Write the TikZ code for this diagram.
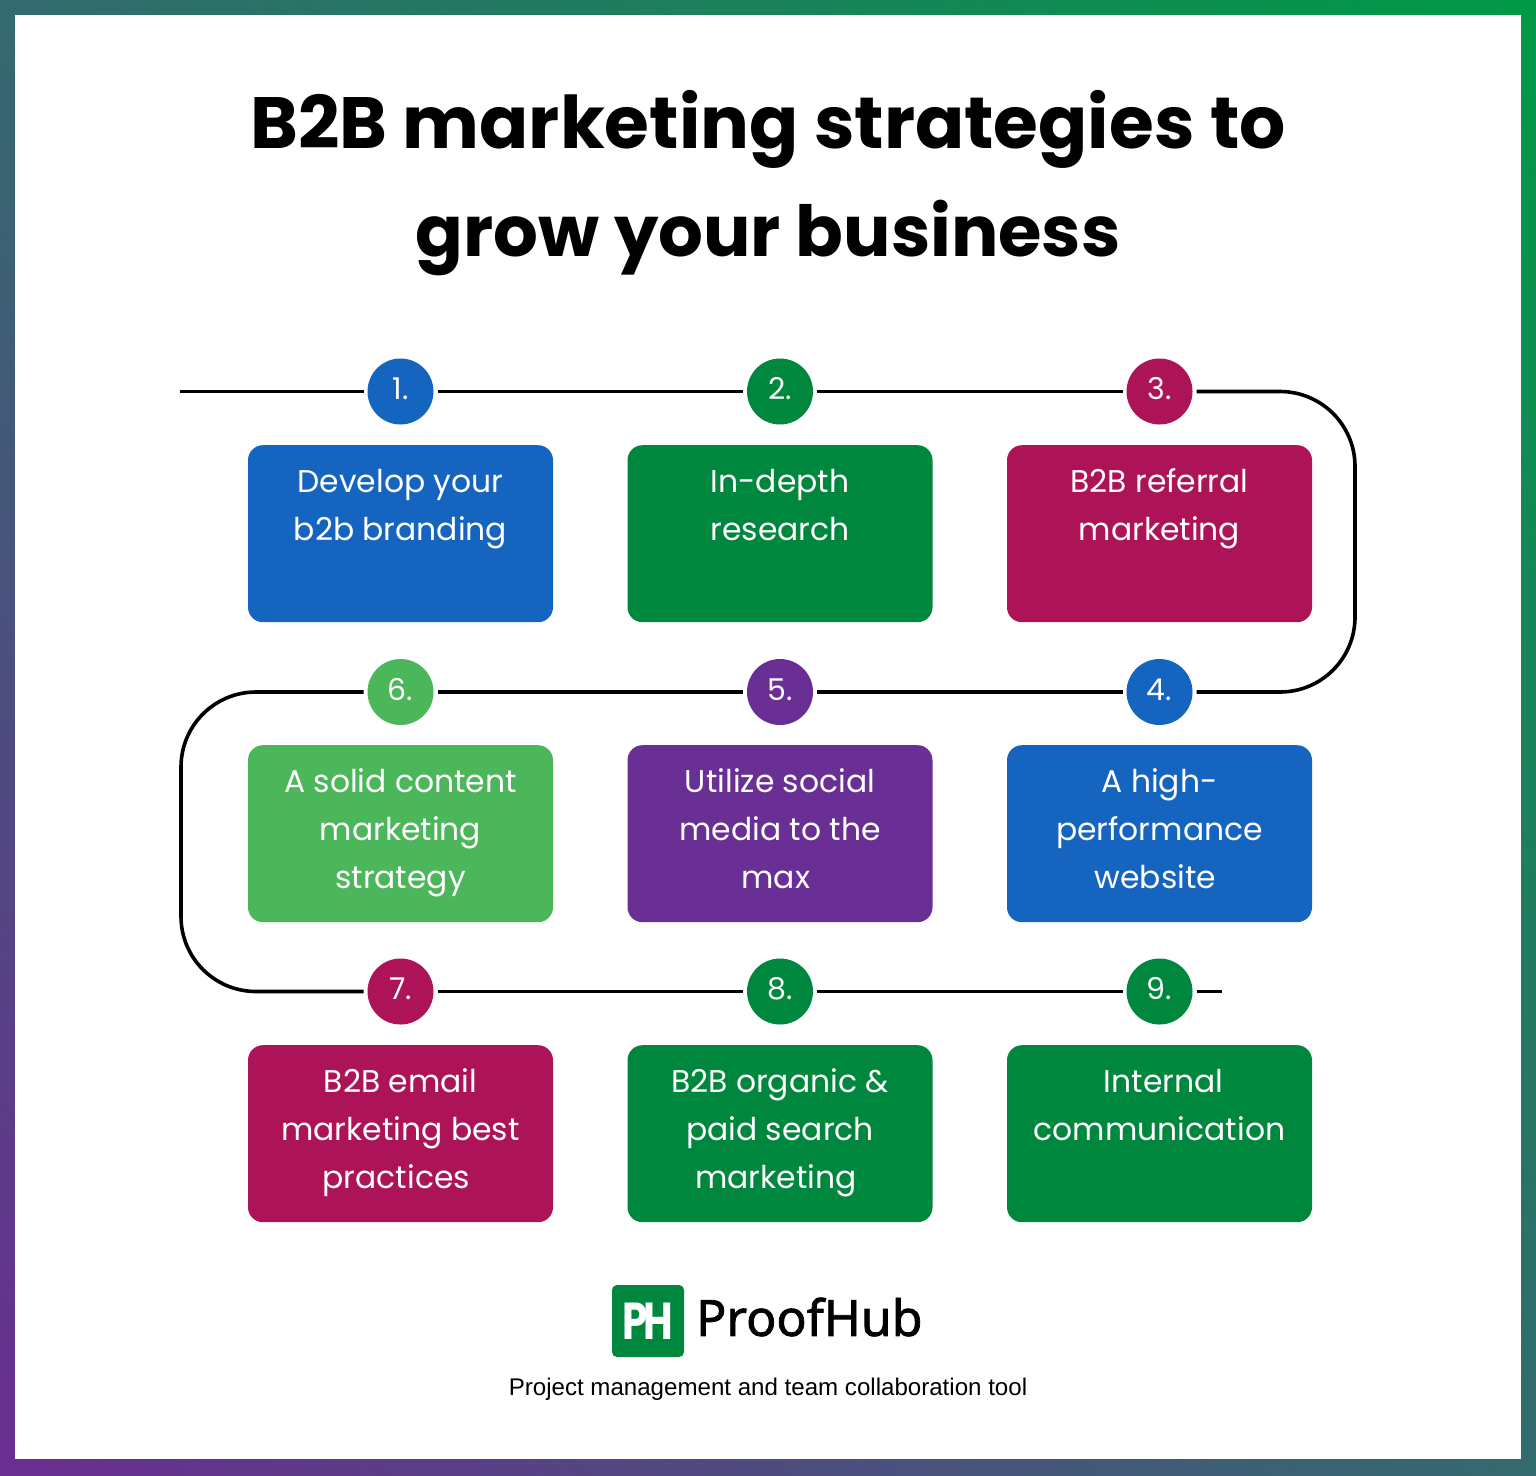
\documentclass[tikz,border=0pt]{standalone}
\usepackage{graphicx}
\usepackage{fontspec}
\setmainfont{Poppins}
\newfontfamily\footfont{Liberation Sans}
\newfontfamily\hubfont{Noto Sans}[FakeBold=1.5]
\usetikzlibrary{positioning, shadings}
\definecolor{pblue}{HTML}{1565C0}
\definecolor{pgreen}{HTML}{00873E}
\definecolor{pred}{HTML}{AD1457}
\definecolor{plime}{HTML}{4CB65A}
\definecolor{ppurple}{HTML}{692F94}
\definecolor{bgreen}{HTML}{009A47}
\definecolor{bteal}{HTML}{336A6E}
\definecolor{bviolet}{HTML}{6A2D91}
\newcommand{\cardend}{\rule[-20.4pt]{0pt}{10pt}}
\begin{document}
\begin{tikzpicture}[x=1pt, y=-1pt,
      dot/.style={circle, fill=#1, text=white, minimum size=66pt, inner sep=0pt, outer sep=4pt,
        text height=21pt, text depth=5pt, font=\fontsize{30}{30}\selectfont},
      card/.style={rectangle, rounded corners=15pt, fill=#1, text=white, minimum width=305pt,
        minimum height=177pt, inner sep=0pt, anchor=north,
        font=\fontsize{31.4}{48}\selectfont, align=center},
      wire/.style={line width=3.6pt, black}]
      \useasboundingbox (0,0) rectangle (1536,1475);
      % frame
      \shade[upper left=bteal, upper right=bgreen, lower left=bviolet, lower right=bteal]
        (0,0) rectangle (1536,1475);
      \fill[white] (15,15) rectangle (1521,1459);
      % title
      \node[font=\fontsize{72.6}{108}\selectfont\bfseries, align=center] (title) at (768,183)
        {B2B marketing strategies to\\\fontsize{70.4}{108}\selectfont grow your business};
      % row 1
      \node[dot=pblue] (n_1) at (400.5,391.5) {1.};
      \node[dot=pgreen] (n_2) at (780,391.5) {2.};
      \node[dot=pred] (n_3) at (1159.5,391.5) {3.};
      \node[card=pblue] (c_1) at (400.5,445) {\strut Develop your\\b2b branding~\\\cardend};
      \node[card=pgreen] (c_2) at (780,445) {\strut In-depth\\research~\\\cardend};
      \node[card=pred] (c_3) at (1159.5,445) {\strut B2B referral\\marketing~\\\cardend};
      % row 2
      \node[dot=plime] (n_6) at (400.5,692) {6.};
      \node[dot=ppurple] (n_5) at (780,692) {5.};
      \node[dot=pblue] (n_4) at (1159.5,692) {4.};
      \node[card=plime] (c_6) at (400.5,745) {\strut A solid content\\marketing\\strategy\cardend};
      \node[card=ppurple] (c_5) at (780,745) {\strut Utilize social\\media to the\\max~\cardend};
      \node[card=pblue] (c_4) at (1159.5,745) {\strut A high-\\performance\\website~\cardend};
      % row 3
      \node[dot=pred] (n_7) at (400.5,991.5) {7.};
      \node[dot=pgreen] (n_8) at (780,991.5) {8.};
      \node[dot=pgreen] (n_9) at (1159.5,991.5) {9.};
      \node[card=pred] (c_7) at (400.5,1045) {\strut B2B email\\marketing best\\practices~\cardend};
      \node[card=pgreen] (c_8) at (780,1045) {\strut B2B organic \&\\paid search\\marketing~\cardend};
      \node[card=pgreen] (c_9) at (1159.5,1045) {\strut~Internal\\communication\\\cardend};
      % wire
      \coordinate (w_start) at (180,391.5);
      \coordinate (w_end) at (1222,991.5);
      \coordinate (turn_a) at (1355,391.5);
      \coordinate (turn_b) at (1355,692);
      \coordinate (turn_c) at (181,692);
      \coordinate (turn_d) at (181,991.5);
      \draw[wire] (w_start) -- (n_1);
      \draw[wire] (n_1) -- (n_2);
      \draw[wire] (n_2) -- (n_3);
      \draw[wire, rounded corners=75pt] (n_3) -- (turn_a) -- (turn_b) -- (n_4);
      \draw[wire] (n_4) -- (n_5);
      \draw[wire] (n_5) -- (n_6);
      \draw[wire, rounded corners=75pt] (n_6) -- (turn_c) -- (turn_d) -- (n_7);
      \draw[wire] (n_7) -- (n_8);
      \draw[wire] (n_8) -- (n_9);
      \draw[wire] (n_9) -- (w_end);
      % logo
      \node[rectangle, rounded corners=5pt, fill=pgreen, text=white, minimum size=72pt, inner sep=0pt,
        font=\fontsize{52}{52}\selectfont\bfseries] (logo) at (648,1321) {\scalebox{.78}[1]{P\kern-5pt H}};
      \node[inner sep=0pt, anchor=west, font=\hubfont\fontsize{50}{50}\selectfont] (hub) at (696,1317) {ProofHub};
      \node[font=\footfont\fontsize{24.1}{24}\selectfont] (tag) at (768,1389) {Project management and team collaboration tool};
\end{tikzpicture}
\end{document}
